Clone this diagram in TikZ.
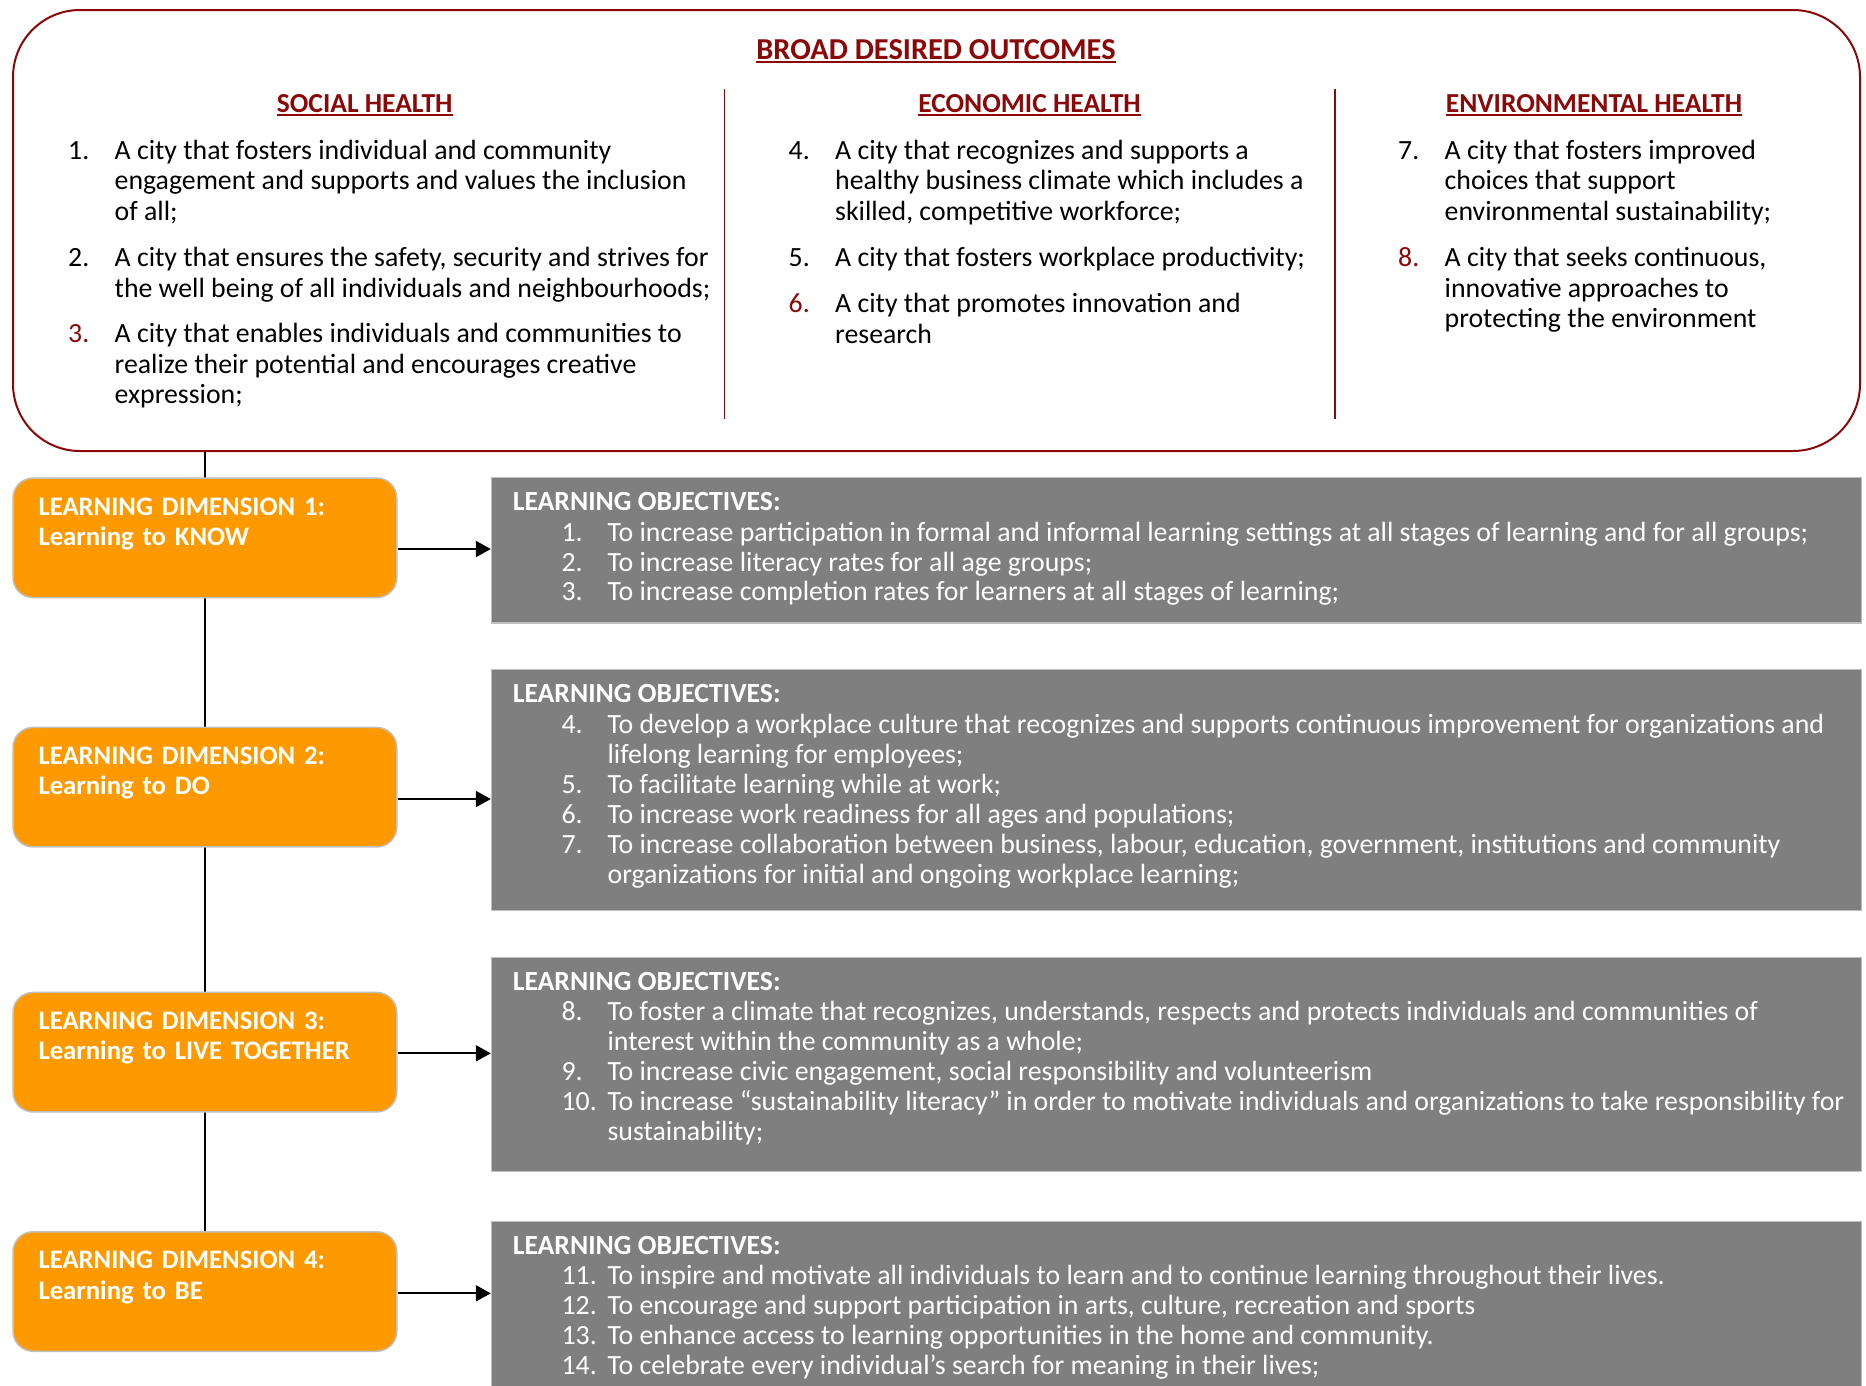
\documentclass[tikz,border=0pt]{standalone}
\usepackage{fontspec}
\setmainfont{Carlito}
\usepackage{xcolor}
\usetikzlibrary{arrows.meta,backgrounds}

\definecolor{rougefonce}{RGB}{140,8,8}
\definecolor{orangebox}{RGB}{255,153,0}
\definecolor{grisbox}{RGB}{127,127,127}
\definecolor{grisbord}{RGB}{191,191,191}

\newcommand{\souligne}[1]{\leavevmode\setbox0\hbox{#1}\rlap{\rule[-3.5pt]{\wd0}{2pt}}\box0}

\begin{document}
\begin{tikzpicture}[x=1pt,y=-1pt,
    cadre/.style={draw=rougefonce,line width=2pt,rounded corners=67pt,anchor=north west,inner sep=0,minimum width=1847pt,minimum height=441pt},
    titre/.style={anchor=base,inner sep=0,text=rougefonce,font=\bfseries\fontsize{30.4}{36}\selectfont},
    colonne/.style={anchor=base,inner sep=0,text=rougefonce,font=\bfseries\fontsize{27.5}{33}\selectfont},
    ville/.style={anchor=base west,inner sep=0,font=\fontsize{27.8}{30.5}\selectfont},
    dim/.style={draw=grisbord,line width=1.5pt,fill=orangebox,rounded corners=20pt,anchor=north west,inner sep=0,minimum width=383.7pt,minimum height=119.5pt},
    dimtxt/.style={anchor=base west,inner sep=0,text=white,align=left,text width=355pt,font=\bfseries\fontsize{26.7}{30.5}\selectfont},
    obj/.style={draw=grisbord,line width=1.2pt,fill=grisbox,anchor=north west,inner sep=0,minimum width=1370.2pt},
    objtitre/.style={anchor=base west,inner sep=0,text=white,font=\bfseries\fontsize{27.7}{30}\selectfont},
    objtxt/.style={anchor=base west,inner sep=0,text=white,font=\fontsize{27.8}{30}\selectfont},
    fleche/.style={line width=2pt,-{Triangle[length=15pt,width=16pt]}}]
    \useasboundingbox (0,0) rectangle (1866,1385);

    % Le cadre des resultats
    \node[cadre] (resultats) at (12,9) {};
    \node[titre] (buts) at (936,59.3) {\souligne{BROAD DESIRED OUTCOMES}};
    \node[colonne] (social) at (364.7,112.7) {\souligne{SOCIAL HEALTH}};
    \node[colonne] (economie) at (1029.5,112.7) {\souligne{ECONOMIC HEALTH}};
    \node[colonne] (environnement) at (1594,112.7) {\souligne{ENVIRONMENTAL HEALTH}};
    \draw[rougefonce,line width=1.5pt] (724.5,89) -- (724.5,419);
    \draw[rougefonce,line width=1.5pt] (1335,89) -- (1335,419);

    % Les lignes des trois colonnes
    \foreach \x/\yy/\nb/\txt [count=\k] in {
        68/159/1./A city that fosters individual and community,
        68/189.5/{}/engagement and supports and values the inclusion,
        68/220/{}/of all;,
        68/266.5/2./{A city that ensures the safety, security and strives for},
        68/297/{}/the well being of all individuals and neighbourhoods;,
        68/342.5/{\textcolor{rougefonce}{3.}}/A city that enables individuals and communities to,
        68/373/{}/realize their potential and encourages creative,
        68/403.5/{}/expression;,
        788.5/159/4./A city that recognizes and supports a,
        788.5/189.5/{}/healthy business climate which includes a,
        788.5/220/{}/{skilled, competitive workforce;},
        788.5/266.5/5./A city that fosters workplace productivity;,
        788.5/312.5/{\textcolor{rougefonce}{6.}}/A city that promotes innovation and,
        788.5/343/{}/research,
        1398/159/7./A city that fosters improved,
        1398/189.5/{}/choices that support,
        1398/220/{}/environmental sustainability;,
        1398/266.5/{\textcolor{rougefonce}{8.}}/{A city that seeks continuous,},
        1398/297/{}/innovative approaches to,
        1398/327.5/{}/protecting the environment} {
        \node[ville] (ville\k) at (\x,\yy) {\makebox[46.5pt][l]{\nb}\txt};
    }

    % Les dimensions et les objectifs
    \foreach \i/\yy/\quoi in {1/477.3/KNOW, 2/726.7/DO, 3/991.7/LIVE TOGETHER, 4/1231/BE} {
        \node[dim] (dim\i) at (12.3,\yy) {};
        \node[dimtxt] (dimtxt\i) at (38.3,\yy+37.7) {LEARNING DIMENSION \i:\\Learning to \quoi};
    }
    \foreach \i/\yy/\hh/\yt in {1/476.7/145.6/510.5, 2/669/241/702.5, 3/956.7/214/990, 4/1220.7/180/1254} {
        \node[obj,minimum height=\hh pt] (obj\i) at (490.8,\yy) {};
        \node[objtitre] (objtitre\i) at (512.6,\yt) {LEARNING OBJECTIVES:};
    }

    % Le trait vertical derriere les boites
    \begin{scope}[on background layer]
        \draw[line width=1.2pt] (resultats.south -| dim1.north) -- (dim4.north);
    \end{scope}

    % Les fleches
    \foreach \i/\ya in {1/549, 2/799, 3/1053.3, 4/1293.3} {
        \draw[fleche] (dim\i.east |- 0,\ya) -- (obj\i.west |- 0,\ya);
    }

    % Les objectifs
    \foreach \nb/\yy/\txt [count=\k] in {
        1./541/To increase participation in formal and informal learning settings at all stages of learning and for all groups;,
        2./571/To increase literacy rates for all age groups;,
        3./600.5/To increase completion rates for learners at all stages of learning;,
        4./733/To develop a workplace culture that recognizes and supports continuous improvement for organizations and,
        {}/763/lifelong learning for employees;,
        5./793/To facilitate learning while at work;,
        6./823/To increase work readiness for all ages and populations;,
        7./853/{To increase collaboration between business, labour, education, government, institutions and community},
        {}/883/organizations for initial and ongoing workplace learning;,
        8./1020/{To foster a climate that recognizes, understands, respects and protects individuals and communities of},
        {}/1050/interest within the community as a whole;,
        9./1080/{To increase civic engagement, social responsibility and volunteerism},
        10./1110.5/To increase “sustainability literacy” in order to motivate individuals and organizations to take responsibility for,
        {}/1140.5/sustainability;,
        11./1284/To inspire and motivate all individuals to learn and to continue learning throughout their lives.,
        12./1314/{To encourage and support participation in arts, culture, recreation and sports},
        13./1344/To enhance access to learning opportunities in the home and community.,
        14./1374/To celebrate every individual’s search for meaning in their lives;} {
        \node[objtxt] (objtxt\k) at (561.4,\yy) {\makebox[46pt][l]{\nb}\txt};
    }
\end{tikzpicture}
\end{document}
